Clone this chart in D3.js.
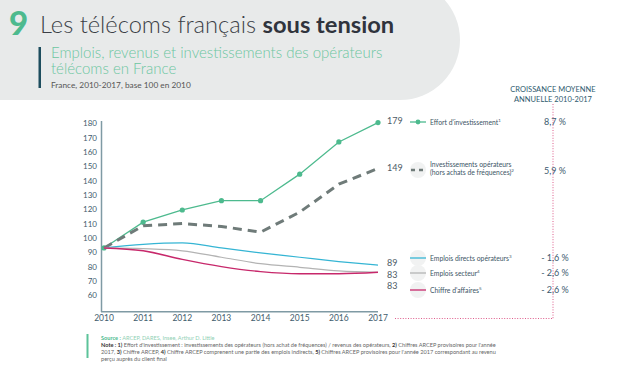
<!DOCTYPE html>
<head>
<meta charset="utf-8">
<script src="https://d3js.org/d3.v7.min.js"></script>
<style>
  body { margin: 0; background: #fff; }
  text { font-family: Lato, 'Open Sans', sans-serif; }
</style>
</head>
<body>
<script>
// DATA
var years = [2010, 2011, 2012, 2013, 2014, 2015, 2016, 2017];
var effort = [93, 111, 119.5, 126, 126, 144.5, 167, 180.5];
var invest = [93, 108.5, 110, 108, 104, 118, 137.5, 148.5];
var emploisDirects = [93, 95.5, 96.5, 93, 89.5, 86.5, 83.5, 81];
var emploisSecteur = [93, 92.5, 91, 86.5, 82, 79.5, 77, 76];
var chiffre = [93, 91, 85, 80, 76.5, 75, 75, 76];
var yTicks = [60, 70, 80, 90, 100, 110, 120, 130, 140, 150, 160, 170, 180];
var endLabels = ['179', '149', '89', '83', '83'];
var legendNames = [["Effort d'investissement", '1'],
                   ['Investissements opérateurs', ''],
                   ['Emplois directs opérateurs', '3'],
                   ['Emplois secteur', '4'],
                   ["Chiffre d'affaires", '5']];
var growth = ['8,7 %', '5,9 %', '- 1,6 %', '- 2,6 %', '- 2,6 %'];

var series = [
  {v: effort, color: '#4dba8e', w: 1.3, dash: null, dots: true, curve: d3.curveLinear, nudge: -1.5, ly: 122},
  {v: invest, color: '#6f7b79', w: 3, dash: '9,6', dots: false, curve: d3.curveLinear, nudge: -1, ly: 170},
  {v: emploisDirects, color: '#35b5d4', w: 1.2, dash: null, dots: false, curve: d3.curveMonotoneX, nudge: -2.8, ly: 258},
  {v: emploisSecteur, color: '#b3b3b3', w: 1.2, dash: null, dots: false, curve: d3.curveMonotoneX, nudge: 2.5, ly: 273},
  {v: chiffre, color: '#c7286b', w: 1.4, dash: null, dots: false, curve: d3.curveMonotoneX, nudge: 13.5, ly: 290}
];

var svg = d3.select('body').append('svg')
  .attr('width', 620).attr('height', 374);

// HEADER
svg.append('rect').attr('x', -60).attr('y', -20).attr('width', 520).attr('height', 120)
  .attr('rx', 60).attr('fill', '#e8eaea');

svg.append('text').attr('x', 9).attr('y', 35)
  .attr('font-size', 33).attr('font-weight', 900).attr('fill', '#4dba8e').text('9');
var t = svg.append('text').attr('x', 40).attr('y', 33).attr('font-size', 23.7).attr('font-weight', 300).attr('fill', '#3b3f46');
t.append('tspan').text('Les télécoms français ');
t.append('tspan').attr('font-weight', 700).attr('fill', '#30343d').text('sous tension');

svg.append('rect').attr('x', 38.5).attr('y', 47).attr('width', 2.5).attr('height', 41).attr('fill', '#1d4d5e');
var sub = svg.append('text').attr('font-size', 15).attr('font-weight', 300).attr('fill', '#6cc6a1');
sub.append('tspan').attr('x', 51).attr('y', 58).text('Emplois, revenus et investissements des opérateurs');
sub.append('tspan').attr('x', 51).attr('y', 74).text('télécoms en France');
svg.append('text').attr('x', 51).attr('y', 88).attr('font-size', 8.3).attr('fill', '#555')
  .text('France, 2010-2017, base 100 en 2010');

// SCALES
var x = d3.scalePoint().domain(years).range([104, 378]);
var y = d3.scaleLinear().domain([48.5, 180]).range([311.7, 123.3]);

// AXES
var axisColor = '#7f9aa4', tickColor = '#3f5d6d';
svg.append('line').attr('x1', 101.5).attr('x2', 101.5).attr('y1', 121).attr('y2', 312)
  .attr('stroke', axisColor).attr('stroke-width', 1.5);
svg.append('line').attr('x1', 101).attr('x2', 378).attr('y1', 311.7).attr('y2', 311.7)
  .attr('stroke', axisColor).attr('stroke-width', 1.5);

svg.selectAll('.ytick').data(yTicks).enter().append('text')
  .attr('x', 97).attr('y', d => y(d) + 3)
  .attr('text-anchor', 'end').attr('font-size', 8).attr('fill', tickColor)
  .text(d => d);
svg.selectAll('.xtick').data(years).enter().append('text')
  .attr('x', d => x(d)).attr('y', 321)
  .attr('text-anchor', 'middle').attr('font-size', 8.5).attr('fill', tickColor)
  .text(d => d);

// LINES
series.forEach(function(s, k) {
  var line = d3.line().x((d, i) => x(years[i])).y(d => y(d)).curve(s.curve);
  svg.append('path').datum(s.v).attr('d', line)
    .attr('fill', 'none').attr('stroke', s.color).attr('stroke-width', s.w)
    .attr('stroke-dasharray', s.dash);
  if (s.dots) {
    svg.selectAll('.dot' + k).data(s.v).enter().append('circle')
      .attr('cx', (d, i) => x(years[i])).attr('cy', d => y(d)).attr('r', 2.6).attr('fill', s.color);
  }
  var last = s.v[s.v.length - 1];
  svg.append('text').attr('x', 387).attr('y', y(last) + s.nudge + 3.2)
    .attr('font-size', 9).attr('fill', '#4d5b66').text(endLabels[k]);
});

// GROWTH COLUMN
var pink = '#d6336f';
svg.append('text').attr('x', 553).attr('y', 92).attr('text-anchor', 'middle')
  .attr('font-size', 7.5).attr('fill', '#2e5a6e').text('CROISSANCE MOYENNE');
svg.append('text').attr('x', 553).attr('y', 102).attr('text-anchor', 'middle')
  .attr('font-size', 7.5).attr('fill', '#2e5a6e').text('ANNUELLE 2010-2017');
svg.append('line').attr('x1', 553).attr('x2', 553).attr('y1', 104).attr('y2', 318.5)
  .attr('stroke', pink).attr('stroke-width', 0.8).attr('stroke-dasharray', '1,1.6');
svg.append('line').attr('x1', 395).attr('x2', 553).attr('y1', 318.5).attr('y2', 318.5)
  .attr('stroke', pink).attr('stroke-width', 0.8).attr('stroke-dasharray', '1,1.6');

// LEGEND
series.forEach(function(s, k) {
  var g = svg.append('g').attr('transform', 'translate(0,' + s.ly + ')');
  if (k > 0) g.append('circle').attr('cx', 418).attr('cy', 0).attr('r', 8).attr('fill', '#f1f2f2');
  g.append('line').attr('x1', s.dash ? 411 : 410).attr('x2', 426).attr('y1', 0).attr('y2', 0)
    .attr('stroke', s.color).attr('stroke-width', s.dash ? 2.5 : 1.3)
    .attr('stroke-dasharray', s.dash ? '4,4' : null);
  if (s.dots) g.append('circle').attr('cx', 418).attr('r', 2.4).attr('fill', s.color);
  var tx = g.append('text').attr('x', 430).attr('font-size', 6.8).attr('fill', '#3d5566');
  if (k === 1) {
    tx.attr('y', -3.5).text(legendNames[k][0]);
    var t2 = g.append('text').attr('x', 430).attr('y', 4.5).attr('font-size', 6.8).attr('fill', '#3d5566');
    t2.append('tspan').text('(hors achats de fréquences)');
    t2.append('tspan').attr('font-size', 4.5).attr('dy', -2.5).text('2');
  } else {
    tx.attr('y', 2.5);
    tx.append('tspan').text(legendNames[k][0]);
    tx.append('tspan').attr('font-size', 4.5).attr('dy', -2.5).text(legendNames[k][1]);
  }
  svg.append('text').attr('x', 555).attr('y', (k === 1 ? s.ly + 1 : s.ly) + 3)
    .attr('text-anchor', 'middle').attr('font-size', 9).attr('fill', '#3d5a6e').text(growth[k]);
});

// FOOTER
svg.append('rect').attr('x', 86.5).attr('y', 334).attr('width', 2).attr('height', 24).attr('fill', '#5cc39a');
var src = svg.append('text').attr('x', 101).attr('y', 340).attr('font-size', 5.6).attr('fill', '#8fd0b4');
src.append('tspan').attr('font-weight', 700).attr('fill', '#4dba8e').text('Source : ');
src.append('tspan').text('ARCEP, DARES, Insee, Arthur D. Little');

var noteLines = [
  [['Note : ', 1], ['1)', 1], [" Effort d'investissement : investissements des opérateurs (hors achat de fréquences) / revenus des opérateurs, ", 0], ['2)', 1], [" Chiffres ARCEP provisoires pour l'année", 0]],
  [['2017, ', 0], ['3)', 1], [' Chiffre ARCEP, ', 0], ['4)', 1], [' Chiffre ARCEP comprenent une partie des emplois indirects, ', 0], ['5)', 1], [" Chiffres ARCEP provisoires pour l'année 2017 correspondant au revenu", 0]],
  [['perçu auprès du client final', 0]]
];
noteLines.forEach(function(parts, i) {
  var tl = svg.append('text').attr('x', 101).attr('y', 347 + i * 7).attr('font-size', 5.6).attr('fill', '#666');
  parts.forEach(function(p) {
    tl.append('tspan').attr('font-weight', p[1] ? 700 : 400).attr('fill', p[1] ? '#333' : '#666').text(p[0]);
  });
});
</script>
</body>
